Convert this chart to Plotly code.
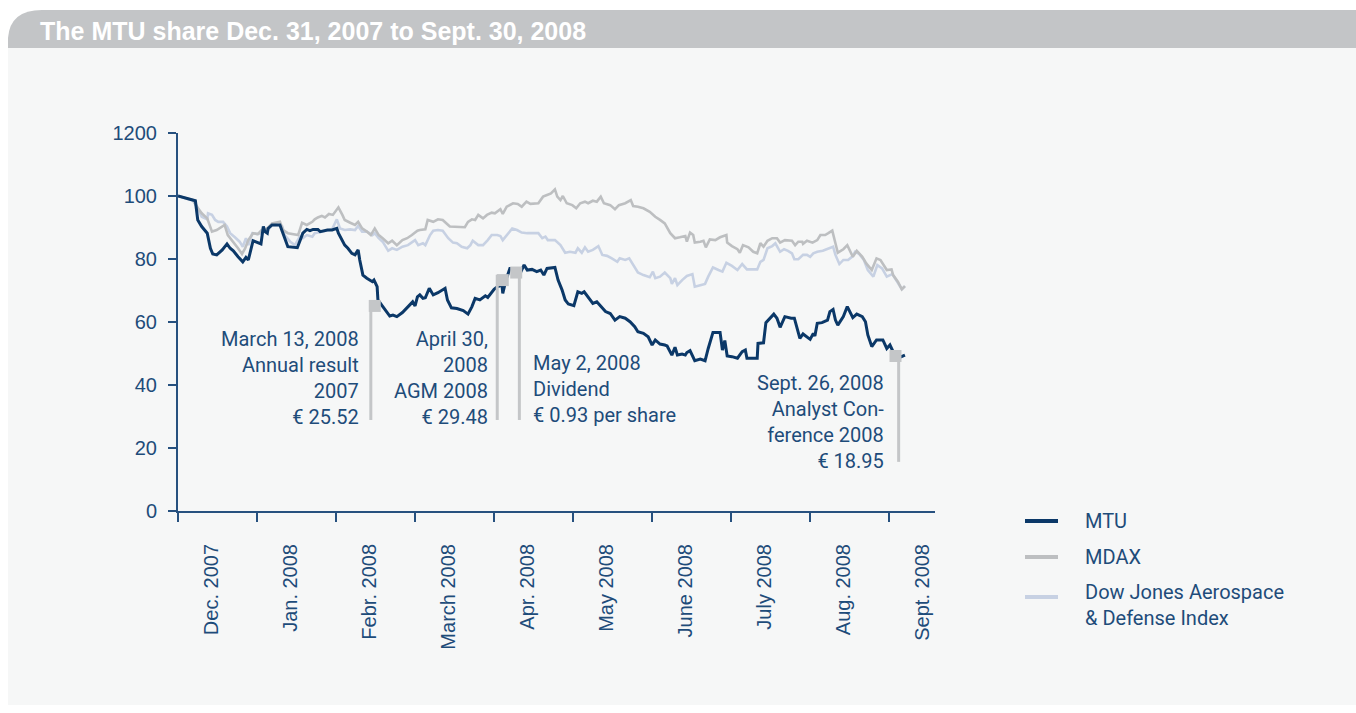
import plotly.graph_objects as go

# ---------------- data (x in months from Dec. 31, 2007; y indexed, start = 100) -------------
mtu_x = [0.00, 0.22, 0.25, 0.30, 0.37, 0.41, 0.44, 0.49, 0.56, 0.62, 0.66, 0.70, 0.76, 0.82, 0.86, 0.89,
         0.95, 1.01, 1.05, 1.08, 1.10, 1.13, 1.14, 1.19, 1.29, 1.32, 1.35, 1.39, 1.51, 1.54, 1.58, 1.63,
         1.67, 1.71, 1.77, 1.80, 1.89, 1.95, 2.01, 2.03, 2.08, 2.11, 2.15, 2.20, 2.24, 2.28, 2.30, 2.34,
         2.39, 2.46, 2.48, 2.52, 2.53, 2.58, 2.63, 2.68, 2.72, 2.77, 2.84, 2.91, 2.97, 3.00, 3.03, 3.06,
         3.10, 3.13, 3.18, 3.23, 3.29, 3.38, 3.41, 3.46, 3.53, 3.61, 3.67, 3.72, 3.76, 3.82, 3.89, 3.92,
         3.95, 4.00, 4.04, 4.10, 4.11, 4.15, 4.20, 4.29, 4.33, 4.38, 4.42, 4.48, 4.54, 4.59, 4.63, 4.67,
         4.77, 4.81, 4.86, 4.90, 4.94, 5.01, 5.06, 5.11, 5.14, 5.19, 5.25, 5.30, 5.37, 5.41, 5.47, 5.53,
         5.59, 5.66, 5.72, 5.78, 5.82, 5.89, 5.95, 6.00, 6.04, 6.10, 6.16, 6.19, 6.25, 6.29, 6.32, 6.38,
         6.42, 6.44, 6.48, 6.54, 6.61, 6.67, 6.71, 6.77, 6.86, 6.89, 6.92, 6.95, 7.01, 7.08, 7.14, 7.18,
         7.20, 7.33, 7.34, 7.41, 7.44, 7.49, 7.54, 7.58, 7.62, 7.68, 7.76, 7.80, 7.84, 7.87, 7.91, 7.96,
         8.00, 8.04, 8.06, 8.09, 8.15, 8.22, 8.25, 8.29, 8.32, 8.35, 8.42, 8.47, 8.51, 8.54, 8.59, 8.66,
         8.70, 8.73, 8.78, 8.84, 8.92, 8.97, 9.01, 9.05, 9.11, 9.15, 9.20]
mtu_y = [100.0, 98.5, 92.4, 90.3, 88.2, 83.4, 81.6, 81.3, 82.9, 84.8, 83.4, 82.6, 80.7, 79.1, 80.5, 79.7,
         85.8, 85.2, 84.8, 90.3, 88.7, 88.2, 89.7, 90.8, 90.8, 88.7, 86.6, 83.9, 83.6, 85.5, 88.2, 89.4,
         89.0, 89.4, 89.4, 88.7, 89.2, 89.2, 89.7, 88.2, 86.0, 84.4, 83.4, 81.8, 81.3, 82.9, 79.7, 74.9,
         73.9, 72.8, 73.3, 71.2, 67.0, 65.4, 63.8, 61.9, 62.2, 61.7, 63.0, 64.9, 66.4, 65.1, 68.0, 68.6,
         67.5, 67.7, 70.7, 68.6, 69.3, 70.7, 67.0, 64.5, 64.3, 63.6, 62.5, 64.9, 67.5, 67.0, 68.3, 67.8,
         68.9, 70.4, 71.2, 71.7, 69.1, 73.3, 77.0, 77.0, 75.4, 78.1, 76.5, 76.7, 76.0, 76.5, 74.9, 77.0,
         77.3, 73.3, 70.2, 67.0, 65.7, 65.2, 69.6, 69.1, 69.6, 68.0, 65.9, 66.4, 64.3, 63.3, 62.7, 60.6,
         61.7, 61.2, 60.1, 58.5, 56.9, 56.4, 55.3, 52.7, 54.3, 53.0, 52.7, 52.4, 49.5, 52.0, 49.5, 49.8,
         49.5, 50.3, 50.9, 47.7, 48.2, 47.7, 51.6, 56.7, 56.7, 51.1, 54.1, 49.2, 49.0, 48.5, 50.6, 51.1,
         48.5, 48.5, 53.2, 53.4, 59.8, 61.2, 62.5, 61.2, 58.3, 61.7, 61.2, 61.2, 57.5, 54.8, 56.2, 55.3,
         54.5, 56.4, 55.6, 59.6, 59.8, 60.6, 63.3, 64.0, 60.6, 59.0, 61.7, 64.9, 62.7, 61.4, 62.5, 61.7,
         60.1, 55.9, 52.2, 54.3, 54.3, 51.6, 52.7, 50.6, 48.5, 49.0, 49.5]

mdax_x = [0.00, 0.19, 0.24, 0.30, 0.37, 0.43, 0.49, 0.56, 0.59, 0.63, 0.70, 0.76, 0.81, 0.85, 0.89, 0.95,
          1.01, 1.06, 1.13, 1.19, 1.29, 1.33, 1.39, 1.46, 1.52, 1.57, 1.63, 1.70, 1.73, 1.77, 1.82, 1.86,
          1.91, 1.96, 2.03, 2.08, 2.11, 2.18, 2.24, 2.28, 2.33, 2.39, 2.44, 2.49, 2.54, 2.59, 2.66, 2.71,
          2.77, 2.84, 2.90, 2.96, 3.03, 3.06, 3.13, 3.16, 3.23, 3.29, 3.35, 3.44, 3.53, 3.63, 3.67, 3.72,
          3.76, 3.80, 3.86, 3.91, 3.97, 4.01, 4.08, 4.11, 4.16, 4.24, 4.30, 4.35, 4.41, 4.46, 4.56, 4.62,
          4.67, 4.72, 4.77, 4.80, 4.84, 4.87, 4.92, 4.99, 5.04, 5.09, 5.15, 5.19, 5.25, 5.30, 5.35, 5.39,
          5.47, 5.53, 5.58, 5.66, 5.73, 5.76, 5.82, 5.89, 5.97, 6.04, 6.10, 6.16, 6.23, 6.29, 6.35, 6.42,
          6.44, 6.48, 6.52, 6.54, 6.61, 6.65, 6.68, 6.73, 6.80, 6.86, 6.94, 6.95, 7.01, 7.08, 7.11, 7.15,
          7.22, 7.28, 7.33, 7.37, 7.41, 7.46, 7.52, 7.58, 7.62, 7.68, 7.77, 7.81, 7.85, 7.90, 7.91, 7.96,
          8.03, 8.09, 8.13, 8.19, 8.23, 8.28, 8.32, 8.35, 8.42, 8.47, 8.54, 8.59, 8.66, 8.71, 8.78, 8.84,
          8.89, 8.92, 8.97, 9.03, 9.05, 9.11, 9.16, 9.20]
mdax_y = [100.0, 98.7, 96.6, 94.5, 92.9, 88.7, 89.2, 90.3, 90.8, 87.6, 85.5, 83.4, 81.6, 83.4, 86.0, 88.2,
          87.9, 89.2, 89.7, 91.3, 91.8, 89.2, 88.2, 87.9, 87.6, 91.5, 90.8, 91.8, 92.6, 93.2, 93.7, 93.2,
          94.3, 94.0, 96.4, 94.0, 92.4, 91.5, 90.8, 91.8, 89.7, 88.7, 87.6, 89.7, 87.6, 86.6, 85.0, 85.8,
          84.4, 86.0, 86.6, 87.6, 89.0, 89.2, 89.4, 92.4, 91.8, 92.6, 92.4, 90.3, 90.1, 90.1, 91.8, 92.6,
          92.4, 94.0, 92.9, 94.0, 94.7, 94.5, 95.8, 94.3, 96.6, 97.7, 97.5, 96.6, 98.2, 97.5, 97.7, 99.8,
          100.3, 100.8, 102.1, 99.8, 98.7, 100.0, 97.7, 97.1, 96.1, 97.7, 98.2, 97.7, 98.5, 98.2, 99.8, 97.7,
          97.1, 95.8, 97.1, 97.7, 98.7, 96.8, 96.6, 96.1, 95.0, 93.4, 92.4, 91.3, 88.2, 86.6, 86.9, 87.3,
          85.5, 88.4, 87.6, 85.2, 85.5, 85.8, 83.7, 86.2, 86.0, 86.9, 87.6, 85.2, 84.1, 83.1, 82.0, 84.4,
          83.7, 82.3, 81.8, 85.0, 83.9, 85.8, 86.6, 86.6, 85.2, 86.0, 85.8, 84.4, 85.5, 85.5, 84.8, 85.8,
          85.2, 86.0, 87.6, 87.6, 88.2, 89.0, 85.0, 82.0, 83.1, 84.4, 80.7, 82.6, 80.7, 78.6, 76.5, 80.2,
          79.7, 78.4, 76.5, 76.7, 74.9, 72.8, 70.4, 71.4]

dj_x = [0.00, 0.19, 0.24, 0.30, 0.37, 0.38, 0.43, 0.47, 0.51, 0.57, 0.62, 0.66, 0.72, 0.78, 0.82, 0.86,
        0.89, 0.94, 1.00, 1.06, 1.10, 1.14, 1.19, 1.27, 1.32, 1.35, 1.42, 1.48, 1.54, 1.58, 1.63, 1.70,
        1.73, 1.82, 1.89, 1.95, 2.01, 2.05, 2.11, 2.18, 2.24, 2.28, 2.33, 2.39, 2.46, 2.49, 2.54, 2.59,
        2.66, 2.71, 2.77, 2.84, 2.91, 3.00, 3.04, 3.10, 3.13, 3.19, 3.23, 3.29, 3.35, 3.42, 3.48, 3.53,
        3.59, 3.66, 3.70, 3.73, 3.80, 3.86, 3.92, 3.97, 4.04, 4.08, 4.11, 4.16, 4.23, 4.29, 4.35, 4.42,
        4.52, 4.56, 4.61, 4.65, 4.68, 4.77, 4.84, 4.90, 4.96, 5.03, 5.06, 5.11, 5.15, 5.19, 5.25, 5.32,
        5.37, 5.43, 5.49, 5.56, 5.59, 5.66, 5.71, 5.76, 5.82, 5.89, 5.94, 5.97, 6.01, 6.04, 6.10, 6.16,
        6.23, 6.25, 6.29, 6.32, 6.38, 6.44, 6.51, 6.54, 6.61, 6.67, 6.71, 6.77, 6.84, 6.89, 6.94, 7.01,
        7.08, 7.14, 7.20, 7.33, 7.37, 7.41, 7.46, 7.52, 7.56, 7.62, 7.67, 7.72, 7.77, 7.80, 7.85, 7.91,
        7.96, 8.00, 8.04, 8.09, 8.16, 8.23, 8.29, 8.32, 8.37, 8.42, 8.48, 8.53, 8.57, 8.62, 8.68, 8.73,
        8.80, 8.85, 8.91, 8.97, 9.04, 9.10, 9.16, 9.20]
dj_y = [100.0, 98.5, 96.6, 93.4, 92.6, 94.5, 94.0, 92.4, 91.8, 91.8, 90.3, 88.2, 86.9, 85.5, 83.9, 86.6,
        84.4, 88.2, 87.9, 88.2, 89.4, 89.2, 90.8, 90.8, 90.3, 87.6, 85.5, 84.4, 87.1, 86.6, 87.6, 87.1,
        88.2, 88.7, 89.0, 89.4, 92.6, 89.7, 89.2, 89.4, 89.2, 90.5, 88.7, 88.7, 87.6, 88.2, 86.6, 85.5,
        82.6, 83.4, 82.9, 83.9, 84.4, 86.0, 84.4, 85.0, 84.4, 87.6, 89.0, 89.2, 89.0, 86.6, 85.2, 85.0,
        83.9, 83.4, 84.4, 85.8, 84.4, 84.4, 86.0, 87.6, 87.6, 87.3, 86.0, 87.6, 89.7, 89.2, 88.4, 88.2,
        88.2, 88.2, 86.6, 87.1, 86.0, 86.0, 84.4, 82.0, 82.3, 82.0, 83.4, 82.0, 83.7, 82.3, 82.9, 84.1,
        81.3, 81.0, 80.2, 79.1, 80.2, 79.7, 80.2, 78.1, 75.7, 74.9, 74.6, 74.2, 76.0, 73.9, 74.4, 75.7,
        73.9, 72.1, 73.9, 71.7, 73.3, 74.6, 75.2, 71.2, 71.7, 72.1, 74.4, 77.3, 76.5, 76.0, 78.8, 77.8,
        76.5, 78.4, 76.7, 76.7, 79.1, 79.7, 83.4, 84.1, 85.0, 82.3, 83.1, 82.6, 81.8, 79.9, 79.9, 81.3,
        81.3, 80.7, 81.8, 82.3, 82.6, 83.4, 83.9, 81.3, 78.4, 79.7, 79.7, 80.7, 82.3, 81.6, 79.7, 76.5,
        74.4, 78.1, 77.0, 74.4, 75.2, 72.8, 70.4, 71.4]

month_labels = ["Dec. 2007", "Jan. 2008", "Febr. 2008", "March 2008", "Apr. 2008",
                "May 2008", "June 2008", "July 2008", "Aug. 2008", "Sept. 2008"]
y_tick_vals = [0, 20, 40, 60, 80, 100, 120]
y_tick_text = ["0", "20", "40", "60", "80", "100", "1200"]

series_names = ["MTU", "MDAX", "Dow Jones Aerospace<br>& Defense Index"]

# events: vertical marker line + square flag
event_line_x = [2.44, 4.04, 4.32, 9.12]
event_line_top = [65.5, 75.0, 77.0, 50.5]
event_line_bottom = [28.9, 28.9, 28.9, 15.6]
event_flag_x = [2.49, 4.11, 4.28, 9.08]
event_flag_y = [65.1, 73.3, 75.7, 49.2]
event_text = ["March 13, 2008<br>Annual result<br>2007<br>€ 25.52",
              "April 30,<br>2008<br>AGM 2008<br>€ 29.48",
              "May 2, 2008<br>Dividend<br>€ 0.93 per share",
              "Sept. 26, 2008<br>Analyst Con-<br>ference 2008<br>€ 18.95"]
event_text_x = [2.31, 3.95, 4.47, 8.96]
event_text_y = [59.0, 59.0, 51.4, 45.0]
event_text_anchor = ["right", "right", "left", "right"]

# ---------------- styling (page-pixel layout) -------------
W, H = 1356, 713
L, R, T, B = 178, 935, 133, 511          # plot area in page pixels
TXT = "#1e4c7a"
AXC = "#27517f"
C_MTU = "#0b3868"
C_MDAX = "#bdbfc1"
C_DJ = "#c7d1e3"
C_FLAG = "#c4c6c8"
series_colors = [C_MTU, C_MDAX, C_DJ]
X_MAX = 9.58


def px_x(p):
    return (p - L) / (R - L)


def px_y(p):
    return (B - p) / (B - T)


fig = go.Figure()
fig.add_trace(go.Scatter(x=dj_x, y=dj_y, mode="lines", name=series_names[2],
                         line=dict(color=C_DJ, width=2.6), hoverinfo="skip"))
fig.add_trace(go.Scatter(x=mdax_x, y=mdax_y, mode="lines", name=series_names[1],
                         line=dict(color=C_MDAX, width=2.6), hoverinfo="skip"))
fig.add_trace(go.Scatter(x=mtu_x, y=mtu_y, mode="lines", name=series_names[0],
                         line=dict(color=C_MTU, width=3), hoverinfo="skip"))

lx, ly = [], []
for x, t, b in zip(event_line_x, event_line_top, event_line_bottom):
    lx += [x, x, None]
    ly += [t, b, None]
fig.add_trace(go.Scatter(x=lx, y=ly, mode="lines", line=dict(color=C_FLAG, width=3),
                         showlegend=False, hoverinfo="skip"))
fig.add_trace(go.Scatter(x=event_flag_x, y=event_flag_y, mode="markers",
                         marker=dict(symbol="square", size=12, color=C_FLAG),
                         showlegend=False, hoverinfo="skip"))
# carrier for the month-label axis
fig.add_trace(go.Scatter(x=[None], y=[None], xaxis="x2", showlegend=False, hoverinfo="skip"))

for txt, x, y, a in zip(event_text, event_text_x, event_text_y, event_text_anchor):
    fig.add_annotation(x=x, y=y, text=txt, showarrow=False, xanchor=a, yanchor="top", align=a,
                       font=dict(family="Roboto", size=20, color=TXT))

# title bar
fig.add_annotation(xref="paper", yref="paper", x=px_x(38), y=px_y(31), xanchor="left", yanchor="middle",
                   text="<b>The MTU share Dec. 31, 2007 to Sept. 30, 2008</b>", showarrow=False,
                   font=dict(family="Liberation Sans", size=25, color="white"))

shapes = [
    dict(type="rect", xref="paper", yref="paper", x0=px_x(8), x1=px_x(1360), y0=px_y(705), y1=px_y(48),
         fillcolor="#f6f7f7", line=dict(width=0), layer="below"),
    dict(type="path", xref="paper", yref="paper", layer="below", fillcolor="#c3c5c7", line=dict(width=0),
         path=(f"M {px_x(8)},{px_y(48)} L {px_x(8)},{px_y(38)} "
               f"Q {px_x(10)},{px_y(10)} {px_x(42)},{px_y(10)} "
               f"L {px_x(1360)},{px_y(10)} L {px_x(1360)},{px_y(48)} Z")),
]

# legend (drawn manually to match spacing)
legend_line_y = [521, 557, 597]
legend_text_y = [521, 557, 605]
for name, col, ly_, ty_ in zip(series_names, series_colors, legend_line_y, legend_text_y):
    shapes.append(dict(type="line", xref="paper", yref="paper", x0=px_x(1025), x1=px_x(1058),
                       y0=px_y(ly_), y1=px_y(ly_), line=dict(color=col, width=4)))
    fig.add_annotation(xref="paper", yref="paper", x=px_x(1083), y=px_y(ty_), xanchor="left",
                       yanchor="middle", align="left", text=name, showarrow=False,
                       font=dict(family="Roboto", size=20, color=TXT))

fig.update_layout(
    width=W, height=H,
    margin=dict(l=L, r=W - R, t=T, b=H - B, pad=0),
    paper_bgcolor="white", plot_bgcolor="rgba(0,0,0,0)",
    shapes=shapes,
    showlegend=False,
    xaxis=dict(range=[0, X_MAX], tickvals=list(range(len(month_labels))),
               ticktext=[""] * len(month_labels), ticks="outside", ticklen=9, tickwidth=2,
               tickcolor=AXC, showline=True, linecolor=AXC, linewidth=2, showgrid=False, zeroline=False,
               fixedrange=True),
    xaxis2=dict(range=[0, X_MAX], overlaying="x", anchor="y", side="bottom",
                tickvals=[i + 0.42 for i in range(len(month_labels))], ticktext=month_labels,
                tickangle=-90, ticks="", ticklabelstandoff=28, showline=False, showgrid=False,
                zeroline=False, tickfont=dict(family="Liberation Sans", size=20, color=TXT)),
    yaxis=dict(range=[0, 120], tickvals=y_tick_vals, ticktext=y_tick_text, ticks="outside", ticklen=8,
               tickwidth=2, tickcolor=AXC, showline=True, linecolor=AXC, linewidth=2, showgrid=False,
               zeroline=False, ticklabelstandoff=7,
               tickfont=dict(family="Liberation Sans", size=20, color=TXT)),
)

fig.write_html("out.html", config={"displayModeBar": False},
               post_script="document.body.style.margin='0px';document.body.style.overflow='hidden';")
